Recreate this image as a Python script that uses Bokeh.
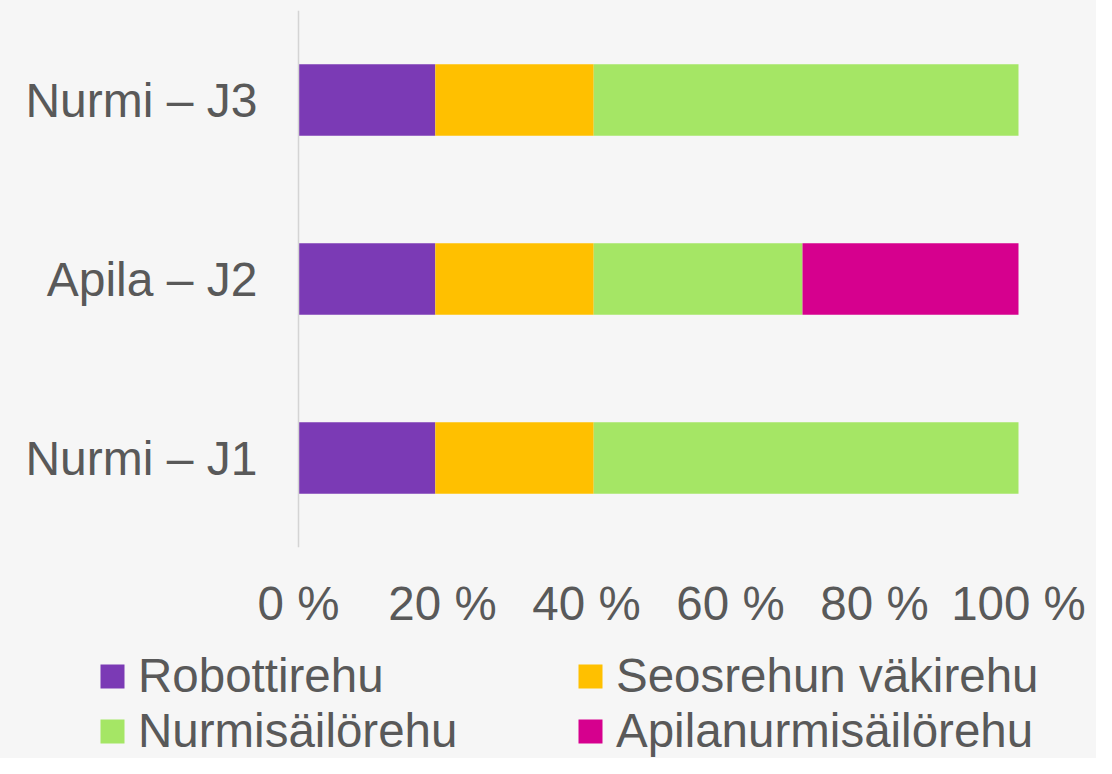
from bokeh.plotting import figure
from bokeh.layouts import column
from bokeh.models import (ColumnDataSource, FactorRange, Range1d, FixedTicker,
                          Legend, LegendItem, Span)
from bokeh.core.properties import value
from bokeh.embed import file_html
from bokeh.resources import INLINE

# ---- data ----
categories = ["Nurmi – J1", "Apila – J2", "Nurmi – J3"]
series = ["Robottirehu", "Seosrehun väkirehu", "Nurmisäilörehu", "Apilanurmisäilörehu"]
robottirehu = [19, 19, 19]
seosrehun_vakirehu = [22, 22, 22]
nurmisailorehu = [59, 29, 59]
apilanurmisailorehu = [0, 30, 0]
tick_values = [0, 20, 40, 60, 80, 100]
tick_labels = ["0 %", "20 %", "40 %", "60 %", "80 %", "100 %"]

colors = ["#7B3AB5", "#FFC000", "#A5E665", "#D6008E"]
keys = ["robotti", "seos", "nurmi", "apila"]

source = ColumnDataSource(dict(
    category=categories,
    robotti=robottirehu,
    seos=seosrehun_vakirehu,
    nurmi=nurmisailorehu,
    apila=apilanurmisailorehu,
))

BG = "#f6f6f6"
FONT = "Liberation Sans"
TXT = "#595959"
W = 1096
H_TOP = 640
H_LEG = 118
# pixel placement of the 0..100 % span inside the full-width frame
PX0, PX1 = 298, 1018
ppu = (PX1 - PX0) / 100.0
x_start = -PX0 / ppu
x_end = 100 + (W - PX1) / ppu

p = figure(width=W, height=H_TOP,
           y_range=FactorRange(factors=categories, range_padding=0),
           x_range=Range1d(x_start, x_end),
           output_backend="svg", toolbar_location=None,
           y_axis_location=None,
           min_border_left=0, min_border_right=0,
           min_border_top=10, min_border_bottom=93)

p.background_fill_color = BG
p.border_fill_color = BG
p.outline_line_color = None
p.xgrid.grid_line_color = None
p.ygrid.grid_line_color = None

renderers = p.hbar_stack(keys, y="category", height=0.4, fill_color=colors,
                         line_color=None, source=source)

# vertical category axis line at 0 %
p.add_layout(Span(location=0, dimension="height", line_color="#d4d4d4", line_width=1.5))

# category labels
p.text(x=[0] * len(categories), y=categories, text=categories,
       x_offset=-41, text_align="right", text_baseline="middle",
       text_font=value(FONT), text_font_size="48px", text_color=TXT)

# x axis
p.xaxis.ticker = FixedTicker(ticks=tick_values)
p.xaxis.major_label_overrides = {v: l for v, l in zip(tick_values, tick_labels)}
p.xaxis.axis_line_color = None
p.xaxis.major_tick_line_color = None
p.xaxis.minor_tick_line_color = None
p.xaxis.major_label_text_font = FONT
p.xaxis.major_label_text_font_size = "47.5px"
p.xaxis.major_label_text_color = TXT
p.xaxis.major_label_standoff = 23

# ---- legend strip (same series, colours) ----
pl = figure(width=W, height=H_LEG,
            y_range=FactorRange(factors=categories),
            x_range=Range1d(-300, -200),
            output_backend="svg", toolbar_location=None,
            x_axis_location=None, y_axis_location=None,
            min_border=0)
pl.background_fill_color = BG
pl.border_fill_color = BG
pl.outline_line_color = None
pl.grid.visible = False
leg_renderers = pl.hbar_stack(keys, y="category", height=0.4, fill_color=colors,
                              line_color=None, source=source)

items = [LegendItem(label=s, renderers=[r]) for s, r in zip(series, leg_renderers)]
leg = Legend(items=items, location=(97, 0), orientation="horizontal", ncols=2)
leg.label_text_font = FONT
leg.label_text_font_size = "47.5px"
leg.label_text_color = TXT
leg.glyph_width = 30
leg.glyph_height = 30
leg.label_standoff = 11
leg.label_width = 437
leg.spacing = 0
leg.padding = 0
leg.margin = 0
leg.border_line_color = None
leg.background_fill_alpha = 0
pl.add_layout(leg)

layout = column(p, pl, spacing=0, styles={"background-color": BG})
open("out.html", "w").write(file_html(layout, INLINE))
